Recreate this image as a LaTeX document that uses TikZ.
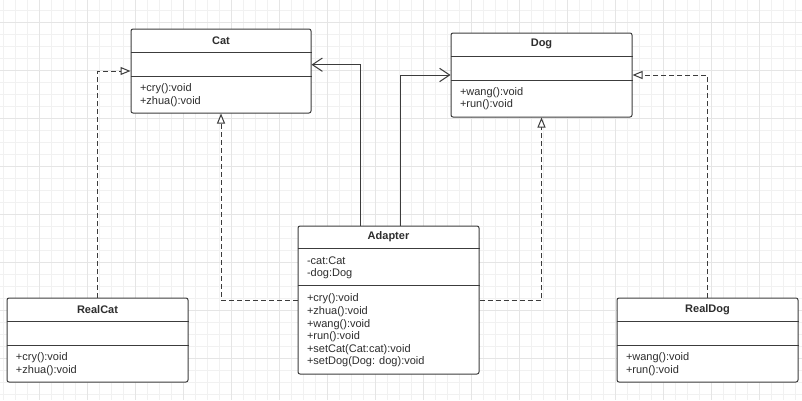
\documentclass[tikz,border=0pt]{standalone}
\usepackage{fontspec}
\setmainfont{Liberation Sans}
\usetikzlibrary{calc}
\usetikzlibrary{arrows.meta}
\tikzset{every picture/.style={line width=0.75pt}}

\definecolor{boxgray}{RGB}{60,60,60}
\definecolor{textgray}{RGB}{45,45,45}
\definecolor{gridminor}{RGB}{241,241,241}
\definecolor{gridmajor}{RGB}{229,229,229}

\tikzset{
  classbox/.style={draw=boxgray, rounded corners=1.5pt, fill=white, inner sep=0pt},
  classline/.style={draw=boxgray},
  classtitle/.style={font=\fontsize{8.25pt}{9.45pt}\selectfont\bfseries, text=textgray, inner sep=0pt},
  classtext/.style={font=\fontsize{8.25pt}{9.45pt}\selectfont, text=textgray, align=left, inner sep=0pt, anchor=west},
  realize/.style={draw=boxgray, dash pattern=on 3.75pt off 2.25pt, -{Triangle[open, length=7.5pt, width=6pt, fill=white]}},
  assoc/.style={draw=boxgray, -{Straight Barb[length=7.5pt, width=10pt]}},
}

\begin{document}
\begin{tikzpicture}[x=0.75pt,y=0.75pt,yscale=-1,xscale=1]
\path[use as bounding box, fill=white] (0,0) rectangle (802,400);

%Grid: minor lines
\foreach \gx in {3.3,15.3,...,800} \draw[gridminor, line width=0.75pt] (\gx,0) -- (\gx,400);
\foreach \gy in {10.7,22.7,...,400} \draw[gridminor, line width=0.75pt] (0,\gy) -- (802,\gy);
%Grid: major lines
\foreach \gx in {39.3,87.3,...,800} \draw[gridmajor, line width=0.75pt] (\gx,0) -- (\gx,400);
\foreach \gy in {22.7,70.7,...,400} \draw[gridmajor, line width=0.75pt] (0,\gy) -- (802,\gy);

%Class: Cat
\node[classbox, minimum width=135pt, minimum height=63pt] (cat) at (221,71) {};
\draw[classline] ($(cat.north west)+(0,24)$) coordinate (cat-d1) -- ($(cat.north east)+(0,24)$);
\draw[classline] ($(cat.north west)+(0,48)$) coordinate (cat-d2) -- ($(cat.north east)+(0,48)$);
\node[classtitle] (cat-name) at ($(cat.north)+(0,12)$) {Cat};
\node[classtext] (cat-ops) at ($(cat.south west)!0.5!(cat-d2)+(9,0)$) {+cry():void\\+zhua():void};

%Class: Dog
\node[classbox, minimum width=135.75pt, minimum height=63pt] (dog) at (541.5,75) {};
\draw[classline] ($(dog.north west)+(0,23.5)$) coordinate (dog-d1) -- ($(dog.north east)+(0,23.5)$);
\draw[classline] ($(dog.north west)+(0,47.5)$) coordinate (dog-d2) -- ($(dog.north east)+(0,47.5)$);
\node[classtitle] (dog-name) at ($(dog.north)+(0,11.75)$) {Dog};
\node[classtext] (dog-ops) at ($(dog.south west)!0.5!(dog-d2)+(9,0)$) {+wang():void\\+run():void};

%Class: Adapter
\node[classbox, minimum width=135.75pt, minimum height=111pt] (adapter) at (388.5,300) {};
\draw[classline] ($(adapter.north west)+(0,23.3)$) coordinate (adapter-d1) -- ($(adapter.north east)+(0,23.3)$);
\draw[classline] ($(adapter.north west)+(0,60)$) coordinate (adapter-d2) -- ($(adapter.north east)+(0,60)$);
\node[classtitle] (adapter-name) at ($(adapter.north)+(0,11.65)$) {Adapter};
\node[classtext] (adapter-attrs) at ($(adapter-d1)!0.5!(adapter-d2)+(9,0.5)$) {-cat:Cat\\-dog:Dog};
\node[classtext] (adapter-ops) at ($(adapter.south west)!0.5!(adapter-d2)+(9,0.5)$) {+cry():void\\+zhua():void\\+wang():void\\+run():void\\+setCat(Cat:cat):void\\+setDog(Dog: dog):void};

%Class: RealCat
\node[classbox, minimum width=135.75pt, minimum height=63pt] (realcat) at (97.5,340) {};
\draw[classline] ($(realcat.north west)+(0,24)$) coordinate (realcat-d1) -- ($(realcat.north east)+(0,24)$);
\draw[classline] ($(realcat.north west)+(0,48)$) coordinate (realcat-d2) -- ($(realcat.north east)+(0,48)$);
\node[classtitle] (realcat-name) at ($(realcat.north)+(0,12)$) {RealCat};
\node[classtext] (realcat-ops) at ($(realcat.south west)!0.5!(realcat-d2)+(9,0)$) {+cry():void\\+zhua():void};

%Class: RealDog
\node[classbox, minimum width=135.75pt, minimum height=63pt] (realdog) at (707.5,340) {};
\draw[classline] ($(realdog.north west)+(0,24)$) coordinate (realdog-d1) -- ($(realdog.north east)+(0,24)$);
\draw[classline] ($(realdog.north west)+(0,48)$) coordinate (realdog-d2) -- ($(realdog.north east)+(0,48)$);
\node[classtitle] (realdog-name) at ($(realdog.north)+(0,12)$) {RealDog};
\node[classtext] (realdog-ops) at ($(realdog.south west)!0.5!(realdog-d2)+(9,0)$) {+wang():void\\+run():void};

%Realization lines
\draw[realize] (realcat.north) |- (cat.west);
\draw[realize] (realdog.north) |- (dog.east);
\draw[realize] (adapter.west) -| (cat.south);
\draw[realize] (adapter.east) -| (dog.south);

%Association lines
\draw[assoc] ($(adapter.north)+(-28,0)$) |- ($(cat.east)+(0,-6.3)$);
\draw[assoc] ($(adapter.north)+(11.5,0)$) |- (dog.west);

\end{tikzpicture}
\end{document}
